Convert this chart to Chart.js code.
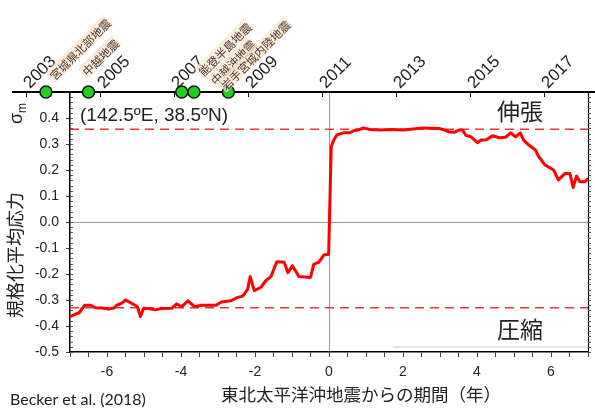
<!DOCTYPE html>
<html>
<head>
<meta charset="utf-8">
<script src="https://cdn.jsdelivr.net/npm/chart.js"></script>
<style>
  body { margin: 0; background: #fff; }
  #wrap { width: 595px; height: 415px; }
</style>
</head>
<body>
<div id="wrap"><canvas id="stressChart" width="595" height="415"></canvas></div>
<script>
// --- Data ---
// years since the Tohoku-oki earthquake (2011-03-11)
const stressTime = [
  -7.0, -6.85, -6.76, -6.6, -6.44, -6.31, -6.14, -5.95, -5.82, -5.73, -5.6, -5.5,
  -5.37, -5.24, -5.17, -5.1, -5.01, -4.88, -4.7, -4.52, -4.25, -4.12, -3.99, -3.81,
  -3.63, -3.45, -3.05, -2.91, -2.65, -2.47, -2.33, -2.2, -2.13, -2.02, -1.84, -1.71,
  -1.57, -1.41, -1.21, -1.11, -0.99, -0.81, -0.5, -0.41, -0.28, -0.14, -0.01, 0.06,
  0.13, 0.21, 0.39, 0.57, 0.66, 0.84, 0.93, 1.11, 1.38, 1.73, 2.0, 2.27,
  2.54, 2.98, 3.12, 3.25, 3.39, 3.52, 3.61, 3.70, 3.83, 4.01, 4.1, 4.24,
  4.42, 4.6, 4.77, 4.91, 5.04, 5.17, 5.26, 5.4, 5.58, 5.67, 5.84, 6.07,
  6.2, 6.38, 6.51, 6.6, 6.69, 6.78, 6.92, 7.0
];
// normalized mean stress (sigma_m)
const stressValue = [
  -0.364, -0.354, -0.35, -0.32, -0.32, -0.33, -0.331, -0.335, -0.331, -0.32, -0.312, -0.30,
  -0.31, -0.32, -0.328, -0.364, -0.332, -0.333, -0.338, -0.333, -0.332, -0.315, -0.326, -0.303,
  -0.326, -0.32, -0.32, -0.308, -0.303, -0.29, -0.285, -0.259, -0.21, -0.264, -0.251, -0.226,
  -0.21, -0.153, -0.155, -0.195, -0.168, -0.21, -0.213, -0.162, -0.155, -0.127, -0.124, 0.29,
  0.315, 0.335, 0.343, 0.343, 0.351, 0.356, 0.362, 0.356, 0.354, 0.356, 0.354, 0.358,
  0.362, 0.36, 0.354, 0.346, 0.345, 0.354, 0.354, 0.333, 0.328, 0.305, 0.315, 0.315,
  0.332, 0.324, 0.326, 0.343, 0.328, 0.343, 0.315, 0.296, 0.277, 0.251, 0.219, 0.2,
  0.162, 0.187, 0.187, 0.133, 0.177, 0.155, 0.155, 0.168
];

const tensionLevel = 0.357;
const compressionLevel = -0.33;

const mainshockYear = 2011.19;
const topYears = [2003, 2005, 2007, 2009, 2011, 2013, 2015, 2017];

const quakeNames = ['宮城県北部地震', '中越地震', '能登半島地震', '中越沖地震', '岩手宮城内陸地震'];
const quakeTime = [-7.65, -6.5, -3.98, -3.65, -2.72];

const bottomLabels = [-6, -4, -2, 0, 2, 4, 6];

// --- Styles ---
const latin = '"Liberation Sans", Arial, sans-serif';
const cjk = '"Noto Sans CJK JP", sans-serif';
const ink = '#222';

// where each quake name sits relative to its dot (dx, baseline y)
const quakeLabelPlace = [[10, 82], [0, 78], [23, 78], [23, 87], [-1, 92]];

function isZero(v) { return Math.abs(v) < 1e-9; }

// --- Extra drawing: top timeline, frame, minor ticks, texts ---
const decorations = {
  id: 'decorations',
  beforeDatasetsDraw(chart) {
    const { ctx, chartArea: a, scales: { x, y } } = chart;
    ctx.save();
    // right frame
    ctx.strokeStyle = '#000';
    ctx.lineWidth = 1.2;
    ctx.beginPath();
    ctx.moveTo(a.right + 0.5, a.top);
    ctx.lineTo(a.right + 0.5, a.bottom);
    ctx.stroke();

    // minor ticks every 0.02 on left (inside) and right (outside)
    ctx.lineWidth = 1;
    ctx.strokeStyle = '#555';
    for (let i = -25; i <= 25; i++) {
      const py = Math.round(y.getPixelForValue(i * 0.02)) + 0.5;
      ctx.beginPath();
      ctx.moveTo(a.left, py); ctx.lineTo(a.left + 3, py);
      ctx.moveTo(a.right, py); ctx.lineTo(a.right + 3, py);
      ctx.stroke();
    }
    ctx.restore();
  },
  afterDraw(chart) {
    const { ctx, chartArea: a, scales: { x, y } } = chart;
    ctx.save();

    // top timeline in calendar years
    ctx.strokeStyle = '#000';
    ctx.lineWidth = 2;
    ctx.beginPath();
    ctx.moveTo(12, a.top);
    ctx.lineTo(595, a.top);
    ctx.stroke();
    ctx.lineWidth = 1;
    topYears.forEach(yr => {
      const px = Math.round(x.getPixelForValue(yr - mainshockYear)) + 0.5;
      ctx.beginPath();
      ctx.moveTo(px, a.top);
      ctx.lineTo(px, a.top + 5);
      ctx.stroke();
    });

    // earthquake markers on the timeline
    quakeTime.forEach(t => {
      const px = x.getPixelForValue(t);
      const py = y.getPixelForValue(0.5);
      ctx.beginPath();
      ctx.arc(px, py, 6, 0, Math.PI * 2);
      ctx.fillStyle = '#1fd11f';
      ctx.fill();
      ctx.lineWidth = 1.5;
      ctx.strokeStyle = '#111';
      ctx.stroke();
    });

    // year labels, slanted
    ctx.fillStyle = ink;
    ctx.font = '17px ' + latin;
    ctx.textAlign = 'left';
    ctx.textBaseline = 'alphabetic';
    topYears.forEach(yr => {
      const px = x.getPixelForValue(yr - mainshockYear);
      ctx.save();
      ctx.translate(px + 4, a.top - 3);
      ctx.rotate(-Math.PI / 4);
      ctx.fillText(String(yr), 0, 0);
      ctx.restore();
    });

    // earthquake names with a soft highlight behind
    ctx.font = '11.5px ' + cjk;
    ctx.textBaseline = 'bottom';
    quakeNames.forEach((name, i) => {
      const px = x.getPixelForValue(quakeTime[i]);
      const [dx, by] = quakeLabelPlace[i];
      const w = ctx.measureText(name).width;
      ctx.save();
      ctx.translate(px + dx, by);
      ctx.rotate(-Math.PI / 4);
      ctx.fillStyle = 'rgba(250, 228, 205, 0.75)';
      ctx.fillRect(-1, -14, w + 2, 14);
      ctx.fillStyle = '#4a3b30';
      ctx.fillText(name, 0, 0);
      ctx.restore();
    });

    // location
    ctx.fillStyle = ink;
    ctx.font = '19px ' + latin;
    ctx.textBaseline = 'alphabetic';
    ctx.fillText('(142.5\u00BAE, 38.5\u00BAN)', 80, 121);

    // tension / compression
    ctx.font = '23px ' + cjk;
    ctx.textAlign = 'center';
    ctx.textBaseline = 'middle';
    ctx.fillText('伸張', 520, 111);
    ctx.fillText('圧縮', 520, 329);

    // faint underline near the bottom right
    ctx.strokeStyle = '#e6e6e6';
    ctx.lineWidth = 2;
    ctx.beginPath();
    ctx.moveTo(393, 347);
    ctx.lineTo(587, 347);
    ctx.stroke();

    // x title
    ctx.fillStyle = ink;
    ctx.font = '17.5px ' + cjk;
    ctx.fillText('東北太平洋沖地震からの期間（年）', 361, 394);

    // y title, rotated
    ctx.save();
    ctx.translate(15, 255);
    ctx.rotate(-Math.PI / 2);
    ctx.font = '18px ' + cjk;
    ctx.fillText('規格化平均応力', 0, 0);
    ctx.restore();

    // sigma_m
    ctx.save();
    ctx.translate(22, 124);
    ctx.rotate(-Math.PI / 2);
    ctx.textAlign = 'left';
    ctx.textBaseline = 'alphabetic';
    ctx.font = '18px ' + latin;
    ctx.fillText('\u03C3', 0, 0);
    const sw = ctx.measureText('\u03C3').width;
    ctx.font = '12px ' + latin;
    ctx.fillText('m', sw, 4);
    ctx.restore();

    // citation
    ctx.font = '16px Lato, "Open Sans", sans-serif';
    ctx.textAlign = 'left';
    ctx.textBaseline = 'alphabetic';
    ctx.fillStyle = '#222';
    ctx.fillText('Becker et al. (2018)', 10, 405);
    ctx.restore();
  }
};

// --- Chart ---
const ctx = document.getElementById('stressChart').getContext('2d');
const stressChart = new Chart(ctx, {
  type: 'line',
  data: {
    datasets: [
      {
        label: 'sigma_m',
        data: stressTime.map((t, i) => ({ x: t, y: stressValue[i] })),
        borderColor: '#ff0000',
        borderWidth: 3,
        pointRadius: 0,
        tension: 0,
        borderJoinStyle: 'round',
        order: 1
      },
      {
        label: 'tension',
        data: [{ x: -7, y: tensionLevel }, { x: 7, y: tensionLevel }],
        borderColor: '#e03a3a',
        borderWidth: 1.5,
        borderDash: [9, 6],
        pointRadius: 0,
        order: 2
      },
      {
        label: 'compression',
        data: [{ x: -7, y: compressionLevel }, { x: 7, y: compressionLevel }],
        borderColor: '#e03a3a',
        borderWidth: 1.5,
        borderDash: [9, 6],
        pointRadius: 0,
        order: 2
      }
    ]
  },
  options: {
    responsive: false,
    animation: false,
    layout: { padding: { top: 92, right: 4, left: 0, bottom: 0 } },
    plugins: { legend: { display: false }, tooltip: { enabled: false } },
    scales: {
      x: {
        type: 'linear',
        min: -7,
        max: 7,
        afterFit: s => { s.height = 63; },
        border: { display: true, color: '#000', width: 1.5 },
        grid: {
          color: c => isZero(c.tick.value) ? '#999' : 'rgba(0,0,0,0)',
          tickColor: '#444',
          tickLength: 5,
          lineWidth: 1
        },
        ticks: {
          stepSize: 0.5,
          autoSkip: false,
          maxRotation: 0,
          padding: 7,
          color: ink,
          font: { family: latin, size: 14 },
          callback: v => bottomLabels.some(b => isZero(v - b)) ? String(Math.round(v)) : ''
        }
      },
      y: {
        type: 'linear',
        min: -0.5,
        max: 0.5,
        afterFit: s => { s.width = 70; },
        border: { display: true, color: '#000', width: 1.5 },
        grid: {
          color: c => isZero(c.tick.value) ? '#999' : 'rgba(0,0,0,0)',
          tickColor: '#444',
          tickLength: 4,
          lineWidth: 1
        },
        ticks: {
          stepSize: 0.1,
          padding: 7,
          color: ink,
          font: { family: latin, size: 14 },
          callback: v => v > 0.45 ? '' : Number(v).toFixed(1)
        }
      }
    }
  },
  plugins: [decorations]
});
</script>
</body>
</html>
